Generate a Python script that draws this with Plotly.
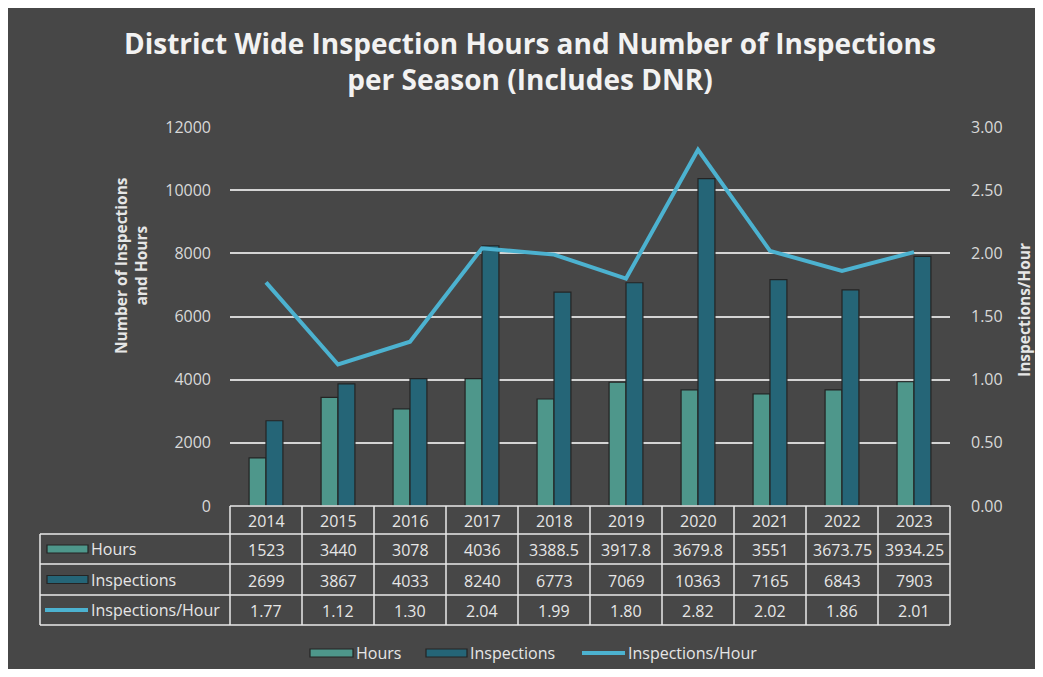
import plotly.graph_objects as go

years = ["2014", "2015", "2016", "2017", "2018", "2019", "2020", "2021", "2022", "2023"]
hours = [1523, 3440, 3078, 4036, 3388.5, 3917.8, 3679.8, 3551, 3673.75, 3934.25]
inspections = [2699, 3867, 4033, 8240, 6773, 7069, 10363, 7165, 6843, 7903]
ratio = [1.77, 1.12, 1.30, 2.04, 1.99, 1.80, 2.82, 2.02, 1.86, 2.01]
hours_labels = ["1523", "3440", "3078", "4036", "3388.5", "3917.8", "3679.8", "3551", "3673.75", "3934.25"]
insp_labels = [str(v) for v in inspections]
ratio_labels = [f"{v:.2f}" for v in ratio]
left_ticks = [0, 2000, 4000, 6000, 8000, 10000, 12000]
right_ticks = [0, 0.5, 1.0, 1.5, 2.0, 2.5, 3.0]

OX, OY = 8, 8  # page (body) offset of the figure in the screenshot
W, H = 1043 - OX, 677 - 2 * OY
L, R, T, B = 230 - OX, 950 - OX, 127 - OY, 506 - OY
BG = "#474747"
C_HOURS = "#4e978b"
C_INSP = "#256577"
C_LINE = "#4cb2d0"
C_OUT = "#242424"
TXT = "#e6e6e6"
GRID = "#d4d4d4"
FONT = "Open Sans"
FS = 16


def px(x):
    """screenshot x pixel -> paper x"""
    return (x - OX - L) / (R - L)


def py(y):
    """screenshot y pixel -> paper y"""
    return (B - (y - OY)) / (B - T)


n = len(years)


def cx(i):
    return (i + 0.5) / n


fig = go.Figure()
fig.add_trace(go.Bar(x=years, y=hours, name="Hours", marker=dict(color=C_HOURS, line=dict(color=C_OUT, width=1.2))))
fig.add_trace(go.Bar(x=years, y=inspections, name="Inspections", marker=dict(color=C_INSP, line=dict(color=C_OUT, width=1.2))))
fig.add_trace(go.Scatter(x=years, y=ratio, name="Inspections/Hour", mode="lines", yaxis="y2",
                         line=dict(color=C_LINE, width=4), cliponaxis=False))

shapes = []
annotations = []

# data table
rows = [506, 534, 564, 595, 625]
tl = dict(color="#e8e8e8", width=1.5)
shapes.append(dict(type="line", xref="paper", yref="paper", x0=0, x1=1, y0=py(rows[0]), y1=py(rows[0]), line=tl))
for r in rows[1:]:
    shapes.append(dict(type="line", xref="paper", yref="paper", x0=px(40), x1=1, y0=py(r), y1=py(r), line=tl))
shapes.append(dict(type="line", xref="paper", yref="paper", x0=px(40), x1=px(40), y0=py(rows[1]), y1=py(rows[-1]), line=tl))
for i in range(n + 1):
    shapes.append(dict(type="line", xref="paper", yref="paper", x0=i / n, x1=i / n, y0=py(rows[0]), y1=py(rows[-1]), line=tl))

row_centers = [(rows[k] + rows[k + 1]) / 2 + 1 for k in range(4)]
for k, labels in enumerate([years, hours_labels, insp_labels, ratio_labels]):
    for i, t in enumerate(labels):
        annotations.append(dict(x=cx(i), xref="paper", y=py(row_centers[k]), yref="paper", text=t, showarrow=False,
                                font=dict(family=FONT, size=FS, color=TXT), xanchor="center", yanchor="middle"))

row_names = ["Hours", "Inspections", "Inspections/Hour"]
for k, name in enumerate(row_names):
    yc = row_centers[k + 1] - 1
    annotations.append(dict(x=px(89), xref="paper", y=py(yc), yref="paper", text=name, showarrow=False,
                            font=dict(family=FONT, size=FS, color=TXT), xanchor="left", yanchor="middle"))
    if k < 2:
        shapes.append(dict(type="rect", xref="paper", yref="paper", x0=px(47), x1=px(88), y0=py(yc + 4), y1=py(yc - 4),
                           fillcolor=[C_HOURS, C_INSP][k], line=dict(color=C_OUT, width=1.2)))
    else:
        shapes.append(dict(type="line", xref="paper", yref="paper", x0=px(45), x1=px(88), y0=py(yc), y1=py(yc),
                           line=dict(color=C_LINE, width=4)))

# bottom legend
ly = 653
leg = [(310, 353, 354, "Hours", C_HOURS, "rect"), (426, 467, 468, "Inspections", C_INSP, "rect"),
       (582, 625, 626, "Inspections/Hour", C_LINE, "line")]
for x0, x1, xt, name, col, kind in leg:
    if kind == "rect":
        shapes.append(dict(type="rect", xref="paper", yref="paper", x0=px(x0), x1=px(x1), y0=py(ly + 4), y1=py(ly - 4),
                           fillcolor=col, line=dict(color=C_OUT, width=1.2)))
    else:
        shapes.append(dict(type="line", xref="paper", yref="paper", x0=px(x0), x1=px(x1), y0=py(ly), y1=py(ly),
                           line=dict(color=col, width=4)))
    annotations.append(dict(x=px(xt), xref="paper", y=py(ly), yref="paper", text=name, showarrow=False,
                            font=dict(family=FONT, size=FS, color=TXT), xanchor="left", yanchor="middle"))

# title
annotations.append(dict(x=px(530), xref="paper", y=py(61), yref="paper",
                        text="<b>District Wide Inspection Hours and Number of Inspections<br>per Season (Includes DNR)</b>",
                        showarrow=False, font=dict(family=FONT, size=28, color="#f2f2f2"),
                        xanchor="center", yanchor="middle"))
# axis titles
annotations.append(dict(x=px(131), xref="paper", y=py(265), yref="paper",
                        text="<b>Number of Inspections<br>and Hours</b>", textangle=-90, showarrow=False,
                        font=dict(family=FONT, size=15.5, color=TXT), xanchor="center", yanchor="middle"))
annotations.append(dict(x=px(1024), xref="paper", y=py(310), yref="paper",
                        text="<b>Inspections/Hour</b>", textangle=-90, showarrow=False,
                        font=dict(family=FONT, size=15.5, color=TXT), xanchor="center", yanchor="middle"))

fig.update_layout(
    width=W, height=H,
    margin=dict(l=L, r=W - R, t=T, b=H - B, pad=0),
    paper_bgcolor=BG, plot_bgcolor=BG,
    showlegend=False,
    barmode="group", bargap=0.53, bargroupgap=0,
    font=dict(family=FONT, color=TXT),
    xaxis=dict(type="category", range=[-0.5, n - 0.5], showticklabels=False, showgrid=False,
               zeroline=False, showline=False, ticks=""),
    yaxis=dict(range=[0, 12000], tickvals=left_ticks, tickformat="d", showgrid=True, gridcolor=GRID, gridwidth=1.5,
               zeroline=False, showline=False, ticks="", ticklabelstandoff=18,
               tickfont=dict(family=FONT, size=FS, color="#d9d9d9")),
    yaxis2=dict(range=[0, 3], tickvals=right_ticks, tickformat=".2f", overlaying="y", side="right",
                showgrid=False, zeroline=False, showline=False, ticks="", ticklabelstandoff=20,
                tickfont=dict(family=FONT, size=FS, color="#d9d9d9")),
    shapes=shapes, annotations=annotations,
)

fig.write_html("out.html")
